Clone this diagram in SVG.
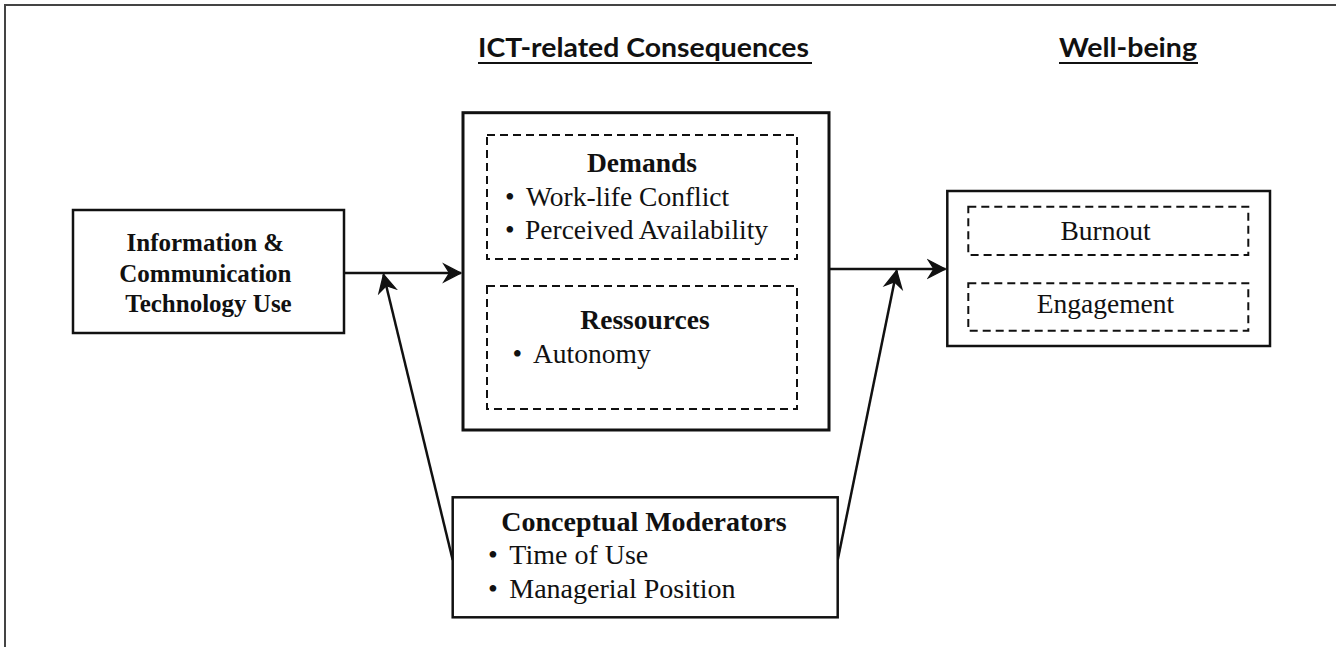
<svg xmlns="http://www.w3.org/2000/svg" width="1336" height="647" viewBox="0 0 1336 647">
<style>
  .box { fill: #fff; stroke: #111; stroke-width: 2.5; }
  .main { fill: #fff; stroke: #111; stroke-width: 3; }
  .dash { fill: none; stroke: #111; stroke-width: 2; stroke-dasharray: 8 5; }
  .conn { fill: none; stroke: #111; stroke-width: 2.5; }
  .hdr { font-family: Lato, "Liberation Sans", sans-serif; font-weight: bold; font-size: 27px; fill: #111; }
  .ul { stroke: #111; stroke-width: 2; }
  .tb { font-family: "Liberation Serif", "Times New Roman", serif; font-weight: bold; fill: #111; }
  .tr { font-family: "Liberation Serif", "Times New Roman", serif; fill: #111; }
</style>
<defs>
  <marker id="arr" markerUnits="userSpaceOnUse" markerWidth="22" markerHeight="22" refX="17" refY="9" orient="auto" viewBox="0 0 20 18">
    <path d="M17,9 L1.5,1 L6.5,9 L1.5,17 Z" fill="#111" stroke="#111" stroke-width="1.2" stroke-linejoin="miter"/>
  </marker>
</defs>
<rect width="1336" height="647" fill="#fff"/>
<path d="M5,647 L5,5 L1336,5" fill="none" stroke="#444" stroke-width="2"/>

<g id="headers">
  <text class="hdr" x="478" y="57" textLength="331" lengthAdjust="spacingAndGlyphs">ICT-related Consequences</text>
  <line class="ul" x1="478" y1="63" x2="812" y2="63"/>
  <text class="hdr" x="1059" y="57" textLength="138" lengthAdjust="spacingAndGlyphs">Well-being</text>
  <line class="ul" x1="1059" y1="63" x2="1198" y2="63"/>
</g>

<g id="connectors">
  <line class="conn" x1="344" y1="273" x2="461" y2="273" marker-end="url(#arr)"/>
  <line class="conn" x1="829" y1="269" x2="945.5" y2="269" marker-end="url(#arr)"/>
  <line class="conn" x1="452.7" y1="560" x2="383.5" y2="274.5" marker-end="url(#arr)"/>
  <line class="conn" x1="837.7" y1="560" x2="896.7" y2="270.5" marker-end="url(#arr)"/>
</g>

<g id="ict-use">
  <rect class="box" x="73" y="210" width="271" height="123"/>
  <text class="tb" font-size="25" text-anchor="middle">
    <tspan x="208.5" y="251">Information &amp;</tspan>
    <tspan x="208.5" y="282">Communication</tspan>
    <tspan x="208.5" y="312">Technology Use</tspan>
  </text>
</g>

<g id="ict-consequences">
  <rect class="main" x="463" y="112.7" width="366" height="317.3"/>
  <g id="demands">
    <rect class="dash" x="487" y="135" width="310" height="124"/>
    <text class="tb" font-size="27.5" x="642" y="171.5" text-anchor="middle">Demands</text>
    <text class="tr" font-size="27.5"><tspan x="505" y="206">•</tspan><tspan x="526" y="206">Work-life Conflict</tspan></text>
    <text class="tr" font-size="27.5"><tspan x="505" y="239">•</tspan><tspan x="525" y="239">Perceived Availability</tspan></text>
  </g>
  <g id="resources">
    <rect class="dash" x="487" y="286" width="310" height="123"/>
    <text class="tb" font-size="27.5" x="645" y="329" text-anchor="middle">Ressources</text>
    <text class="tr" font-size="27.5"><tspan x="512.5" y="362.5">•</tspan><tspan x="533" y="362.5">Autonomy</tspan></text>
  </g>
</g>

<g id="well-being">
  <rect class="box" x="947.3" y="191" width="322.7" height="155"/>
  <g id="burnout">
    <rect class="dash" x="968.3" y="206.7" width="280" height="48.3"/>
    <text class="tr" font-size="27.5" x="1105.5" y="240" text-anchor="middle">Burnout</text>
  </g>
  <g id="engagement">
    <rect class="dash" x="968.3" y="283.3" width="280" height="47.4"/>
    <text class="tr" font-size="27.5" x="1105.5" y="313.3" text-anchor="middle">Engagement</text>
  </g>
</g>

<g id="moderators">
  <rect class="box" x="452.7" y="497.3" width="385" height="120"/>
  <text class="tb" font-size="28" x="644" y="531" text-anchor="middle">Conceptual Moderators</text>
  <text class="tr" font-size="28"><tspan x="488" y="564">•</tspan><tspan x="509.3" y="564">Time of Use</tspan></text>
  <text class="tr" font-size="28"><tspan x="488" y="598.3">•</tspan><tspan x="509.3" y="598.3">Managerial Position</tspan></text>
</g>
</svg>
